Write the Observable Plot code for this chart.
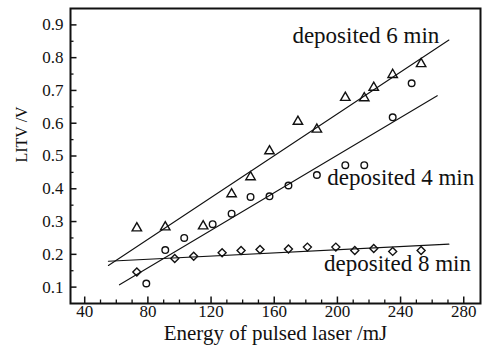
<!DOCTYPE html>
<html>
<head>
<meta charset="utf-8">
<script src="https://cdn.jsdelivr.net/npm/d3@7"></script>
<script src="https://cdn.jsdelivr.net/npm/@observablehq/plot@0.6"></script>
<style>
  html, body { margin: 0; padding: 0; background: #fff; }
  svg, svg text { font-family: "Liberation Serif", serif; }
</style>
</head>
<body>
<div id="chart"></div>
<script>
// Measured LITV (V) against pulsed-laser energy (mJ) for three deposition times
const energy6 = [73, 91, 115, 133, 145, 157, 175, 187, 205, 217, 223, 235, 253];
const litv6   = [0.280, 0.283, 0.286, 0.384, 0.436, 0.515, 0.605, 0.581, 0.678, 0.677, 0.709, 0.748, 0.781];

const energy4 = [79, 91, 103, 121, 133, 145, 157, 169, 187, 205, 217, 235, 247];
const litv4   = [0.111, 0.213, 0.250, 0.292, 0.324, 0.375, 0.377, 0.410, 0.442, 0.472, 0.472, 0.618, 0.722];

const energy8 = [73, 97, 109, 127, 139, 151, 169, 181, 199, 211, 223, 235, 253];
const litv8   = [0.146, 0.187, 0.194, 0.205, 0.212, 0.215, 0.216, 0.222, 0.222, 0.212, 0.218, 0.209, 0.212];

// Linear fits: end points of each fitted line
const fitSeries = ["6 min", "4 min", "8 min"];
const fitEnergy = [[55, 270.6], [62, 263.2], [55, 270.6]];
const fitLitv   = [[0.166, 0.854], [0.107, 0.684], [0.179, 0.231]];

// Series labels, anchored at their left baseline
const labelText   = ["deposited 6 min", "deposited 4 min", "deposited 8 min"];
const labelEnergy = [171.5, 193.6, 191.5];
const labelLitv   = [0.845, 0.411, 0.149];

// Axis ticks
const xMajor = [40, 80, 120, 160, 200, 240, 280];
const xMinor = [50, 60, 70, 90, 100, 110, 130, 140, 150, 170, 180, 190, 210, 220, 230, 250, 260, 270];
const yMajor = [0.1, 0.2, 0.3, 0.4, 0.5, 0.6, 0.7, 0.8, 0.9];
const yMinor = [0.15, 0.25, 0.35, 0.45, 0.55, 0.65, 0.75, 0.85];

const pts = (xs, ys) => xs.map((x, i) => ({energy: x, litv: ys[i]}));
const points6 = pts(energy6, litv6);
const points4 = pts(energy4, litv4);
const points8 = pts(energy8, litv8);

const fits = fitSeries.flatMap((s, i) =>
  fitEnergy[i].map((e, j) => ({series: s, energy: e, litv: fitLitv[i][j]})));

const labels = labelText.map((t, i) => ({text: t, energy: labelEnergy[i], litv: labelLitv[i]}));

const font = '"Liberation Serif", serif';
const ink = "#111";

const chart = Plot.plot({
  width: 492,
  height: 352,
  marginLeft: 70,
  marginRight: 12,
  marginTop: 8,
  marginBottom: 49,
  x: {domain: [31, 290.6]},
  y: {domain: [0.05, 0.95]},
  style: {fontFamily: font, fontSize: "17px", color: ink, background: "#fff"},
  marks: [
    // inward ticks
    Plot.axisX(xMinor, {anchor: "bottom", tickSize: 3.5, dy: -3.5, text: null, label: null, strokeWidth: 1.3}),
    Plot.axisX(xMajor, {anchor: "bottom", tickSize: 6.5, dy: -6.5, text: null, label: null, strokeWidth: 1.5}),
    Plot.axisY(yMinor, {anchor: "left", tickSize: 3.5, dx: 3.5, text: null, label: null, strokeWidth: 1.3}),
    Plot.axisY(yMajor, {anchor: "left", tickSize: 6.5, dx: 6.5, text: null, label: null, strokeWidth: 1.5}),
    // tick labels
    Plot.axisX(xMajor, {anchor: "bottom", tickSize: 0, tickPadding: 1, label: null, fontSize: 17, fontFamily: font, fill: ink}),
    Plot.axisY(yMajor, {anchor: "left", tickSize: 0, tickPadding: 7, label: null, fontSize: 17, fontFamily: font, fill: ink, tickFormat: d3.format(".1f")}),
    // axis titles
    Plot.text(["Energy of pulsed laser /mJ"], {frameAnchor: "bottom", dy: 36, lineAnchor: "bottom", fontSize: 21, fontFamily: font, fill: ink}),
    Plot.text(["LITV /V"], {frameAnchor: "left", rotate: -90, dx: -49, dy: 6.5, fontSize: 16, fontFamily: font, fill: ink}),
    Plot.frame({stroke: ink, strokeWidth: 2}),
    // fitted lines
    Plot.line(fits, {x: "energy", y: "litv", z: "series", stroke: ink, strokeWidth: 1.1}),
    // measurements
    Plot.dot(points6, {x: "energy", y: "litv", symbol: "triangle", r: 3.5, stroke: ink, strokeWidth: 1.4, fill: "none"}),
    Plot.dot(points4, {x: "energy", y: "litv", symbol: "circle", r: 3.3, stroke: ink, strokeWidth: 1.4, fill: "none"}),
    Plot.dot(points8, {x: "energy", y: "litv", symbol: "diamond2", r: 3.6, stroke: ink, strokeWidth: 1.4, fill: "none"}),
    // series labels
    Plot.text(labels, {x: "energy", y: "litv", text: "text", textAnchor: "start", lineAnchor: "bottom", fontSize: 23, fontFamily: font, fill: ink})
  ]
});

document.getElementById("chart").appendChild(chart);
</script>
</body>
</html>
